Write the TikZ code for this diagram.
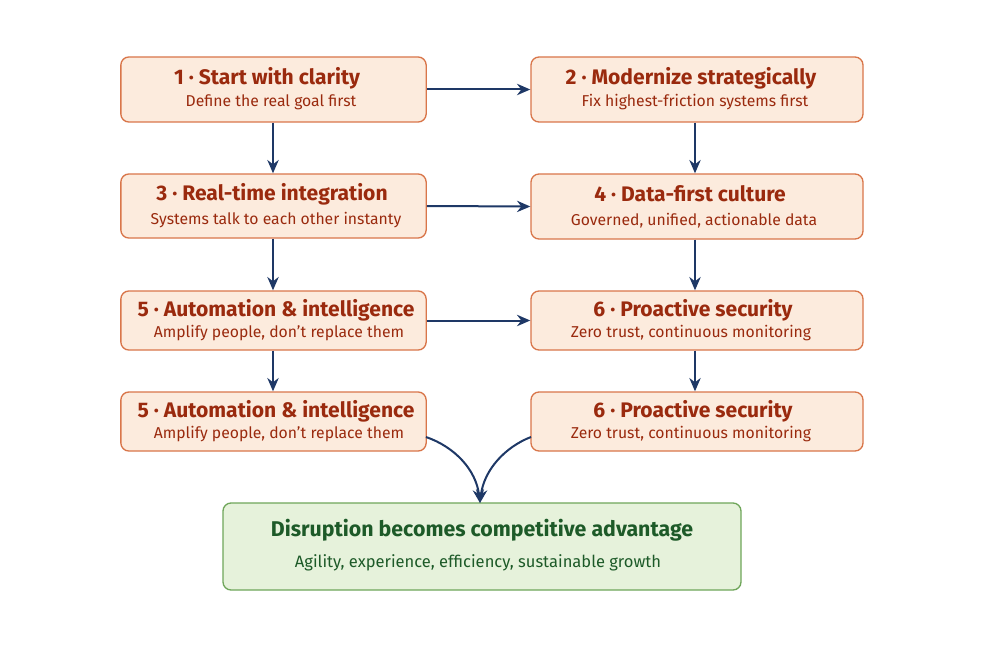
\documentclass[tikz,border=0pt]{standalone}
\usepackage{fontspec}
\setmainfont{Fira Sans}
\usetikzlibrary{arrows.meta}
\definecolor{boxfill}{HTML}{FCEBDD}
\definecolor{boxdraw}{HTML}{D9764A}
\definecolor{boxtext}{HTML}{9A2A0E}
\definecolor{arrowc}{HTML}{1E3866}
\definecolor{gfill}{HTML}{E6F2DB}
\definecolor{gdraw}{HTML}{6FA65A}
\definecolor{gtext}{HTML}{1D5A28}
\tikzset{
  stepbox/.style={draw=boxdraw, fill=boxfill, rounded corners=6pt, line width=1pt, inner sep=0pt},
  ttl/.style={text=boxtext, font=\bfseries\fontsize{15.8}{18}\selectfont},
  sub/.style={text=boxtext, font=\fontsize{11.8}{14}\selectfont},
  arr/.style={draw=arrowc, line width=1.5pt, -{Stealth[length=10pt,width=8.5pt]}},
}
\begin{document}
\begin{tikzpicture}[x=0.75pt,y=-0.75pt]
\useasboundingbox[fill=white] (0,0) rectangle (1000,667);
% boxes
\node[stepbox, minimum width=229pt, minimum height=48.75pt] (b1) at (273.5,89.5) {};
\node[stepbox, minimum width=249pt, minimum height=48.75pt] (b2) at (697,89.5) {};
\node[stepbox, minimum width=229pt, minimum height=48pt] (b3) at (273.5,206) {};
\node[stepbox, minimum width=249pt, minimum height=48.75pt] (b4) at (697,206.5) {};
\node[stepbox, minimum width=229pt, minimum height=44.25pt] (b5) at (273.5,320.5) {};
\node[stepbox, minimum width=249pt, minimum height=44.25pt] (b6) at (697,320.5) {};
\node[stepbox, minimum width=229pt, minimum height=44.25pt] (b7) at (273.5,421.5) {};
\node[stepbox, minimum width=249pt, minimum height=44.25pt] (b8) at (697,421.5) {};
\node[draw=gdraw, fill=gfill, rounded corners=6pt, line width=1pt, minimum width=388.5pt, minimum height=65.25pt] (g) at (482,546.5) {};
% texts
\node[ttl] (t1) at (267,78) {1 · Start with clarity};
\node[sub] (s1) at (271,102.5) {Define the real goal first};
\node[ttl] (t2) at (691,78) {2 · Modernize strategically};
\node[sub] (s2) at (695,102.5) {Fix highest-friction systems first};
\node[ttl] (t3) at (272,194) {3 · Real-time integration};
\node[sub] (s3) at (276,220.5) {Systems talk to each other instanty};
\node[ttl] (t4) at (690,194) {4 · Data-first culture};
\node[sub] (s4) at (694,220.5) {Governed, unified, actionable data};
\node[ttl] (t5) at (276,310) {5 · Automation \& intelligence};
\node[sub] (s5) at (279,333.5) {Amplify people, don’t replace them};
\node[ttl] (t6) at (693,310) {6 · Proactive security};
\node[sub] (s6) at (691,333.5) {Zero trust, continuous monitoring};
\node[ttl] (t7) at (276,411) {5 · Automation \& intelligence};
\node[sub] (s7) at (279,434.5) {Amplify people, don’t replace them};
\node[ttl] (t8) at (693,411) {6 · Proactive security};
\node[sub] (s8) at (691,434.5) {Zero trust, continuous monitoring};
\node[text=gtext, font=\bfseries\fontsize{16}{19}\selectfont] (gt) at (482,530) {Disruption becomes competitive advantage};
\node[text=gtext, font=\fontsize{12.4}{15}\selectfont] (gs) at (478,562.5) {Agility, experience, efficiency, sustainable growth};
% arrows
\draw[arr] (b1.east) -- (b2.west);
\draw[arr] (b3.east) -- (b4.west);
\draw[arr] (b5.east) -- (b6.west);
\draw[arr] (b1.south -| 273,0) -- (b3.north -| 273,0);
\draw[arr] (b3.south -| 273,0) -- (b5.north -| 273,0);
\draw[arr] (b5.south -| 273,0) -- (b7.north -| 273,0);
\draw[arr] (b2.south -| 695,0) -- (b4.north -| 695,0);
\draw[arr] (b4.south -| 695,0) -- (b6.north -| 695,0);
\draw[arr] (b6.south -| 695,0) -- (b8.north -| 695,0);
\coordinate (l1) at (426,437);
\coordinate (r1) at (531,437);
\coordinate (m) at (480,503);
\draw[arr] (l1) .. controls (455,447) and (476,470) .. (m);
\draw[arr] (r1) .. controls (505,447) and (484,470) .. (m);
\end{tikzpicture}
\end{document}
